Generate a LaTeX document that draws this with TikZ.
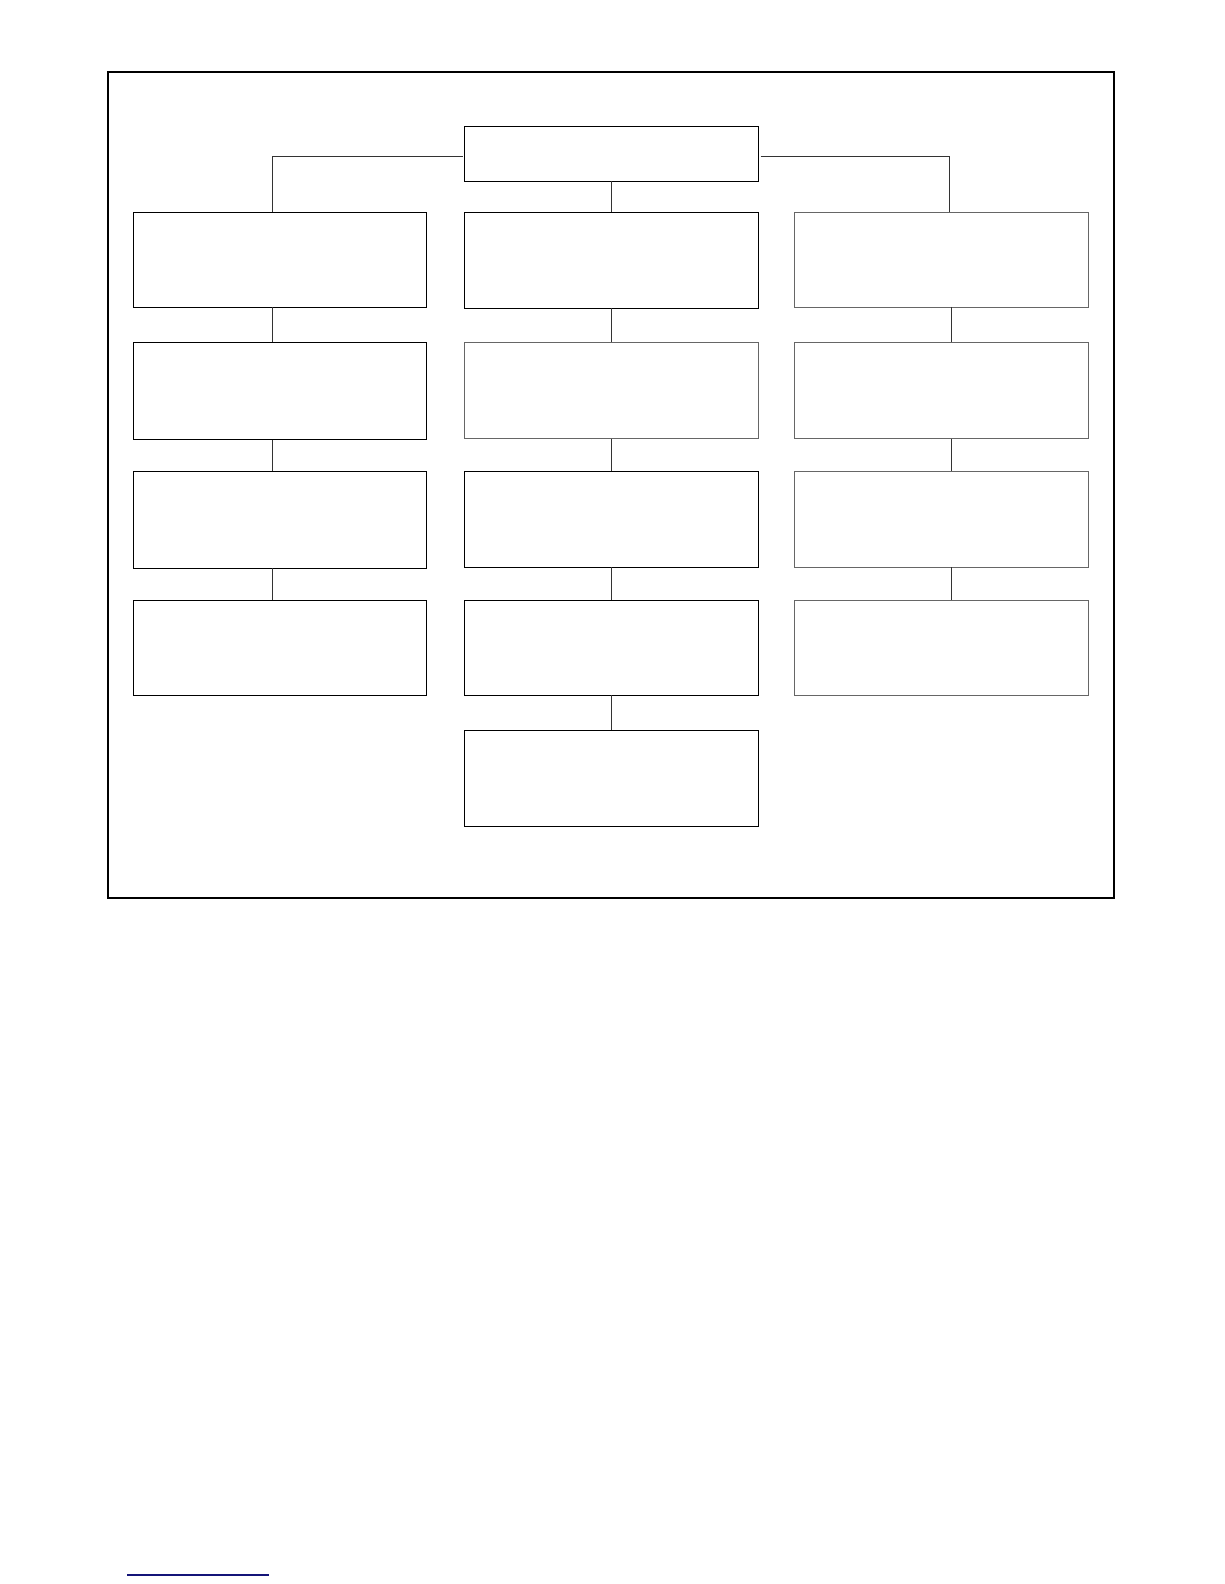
\documentclass[tikz,border=0pt]{standalone}
\usetikzlibrary{fit}
\begin{document}
\begin{tikzpicture}[x=0.02cm,y=-0.02cm,
  box/.style={draw=black,line width=0.5pt,rectangle,inner sep=0pt,outer sep=0pt},
  greybox/.style={box,draw=black!60},
  link/.style={draw=black!80,line width=0.45pt}]
\useasboundingbox (0,0) rectangle (1224,1584);
\draw[line width=1.1pt] (107.7,72) rectangle (1114,898);
% top
\node[box,fit={(464,126) (758,181)}] (top) {};
% column 1
\node[box,fit={(133,212) (426,307)}] (a1) {};
\node[box,fit={(133,342.5) (426,439.5)}] (a2) {};
\node[box,fit={(133,471) (426,568)}] (a3) {};
\node[box,fit={(133,600) (426,695)}] (a4) {};
% column 2
\node[box,fit={(464,212) (758,308)}] (b1) {};
\node[greybox,fit={(464,342.5) (758,438.5)}] (b2) {};
\node[box,fit={(464,471) (758,567)}] (b3) {};
\node[box,fit={(464,600) (758,695)}] (b4) {};
\node[box,fit={(464,730) (758,826)}] (b5) {};
% column 3
\node[greybox,fit={(794,212) (1088,307)}] (c1) {};
\node[greybox,fit={(794,342.5) (1088,438.5)}] (c2) {};
\node[greybox,fit={(794,471) (1088,567)}] (c3) {};
\node[greybox,fit={(794,600) (1088,695)}] (c4) {};
% connectors
\coordinate (tl) at (462.5,156);
\coordinate (tr) at (760.5,156);
\draw[link] (tl) -| (a1.north -| 272.5,0);
\draw[link] (tr) -| (c1.north -| 949,0);
\draw[link] (top.south -| 611,0) -- (b1.north -| 611,0);
\draw[link] (a1.south -| 272.5,0) -- (a2.north -| 272.5,0);
\draw[link] (a2.south -| 272.5,0) -- (a3.north -| 272.5,0);
\draw[link] (a3.south -| 272.5,0) -- (a4.north -| 272.5,0);
\draw[link] (b1.south -| 611,0) -- (b2.north -| 611,0);
\draw[link] (b2.south -| 611,0) -- (b3.north -| 611,0);
\draw[link] (b3.south -| 611,0) -- (b4.north -| 611,0);
\draw[link] (b4.south -| 611,0) -- (b5.north -| 611,0);
\draw[link] (c1.south -| 951,0) -- (c2.north -| 951,0);
\draw[link] (c2.south -| 951,0) -- (c3.north -| 951,0);
\draw[link] (c3.south -| 951,0) -- (c4.north -| 951,0);
% footnote rule
\coordinate (r1) at (127,1575);
\coordinate (r2) at (269,1575);
\draw[color={rgb,255:red,20;green,20;blue,120},line width=0.6pt] (r1) -- (r2);
\end{tikzpicture}
\end{document}
